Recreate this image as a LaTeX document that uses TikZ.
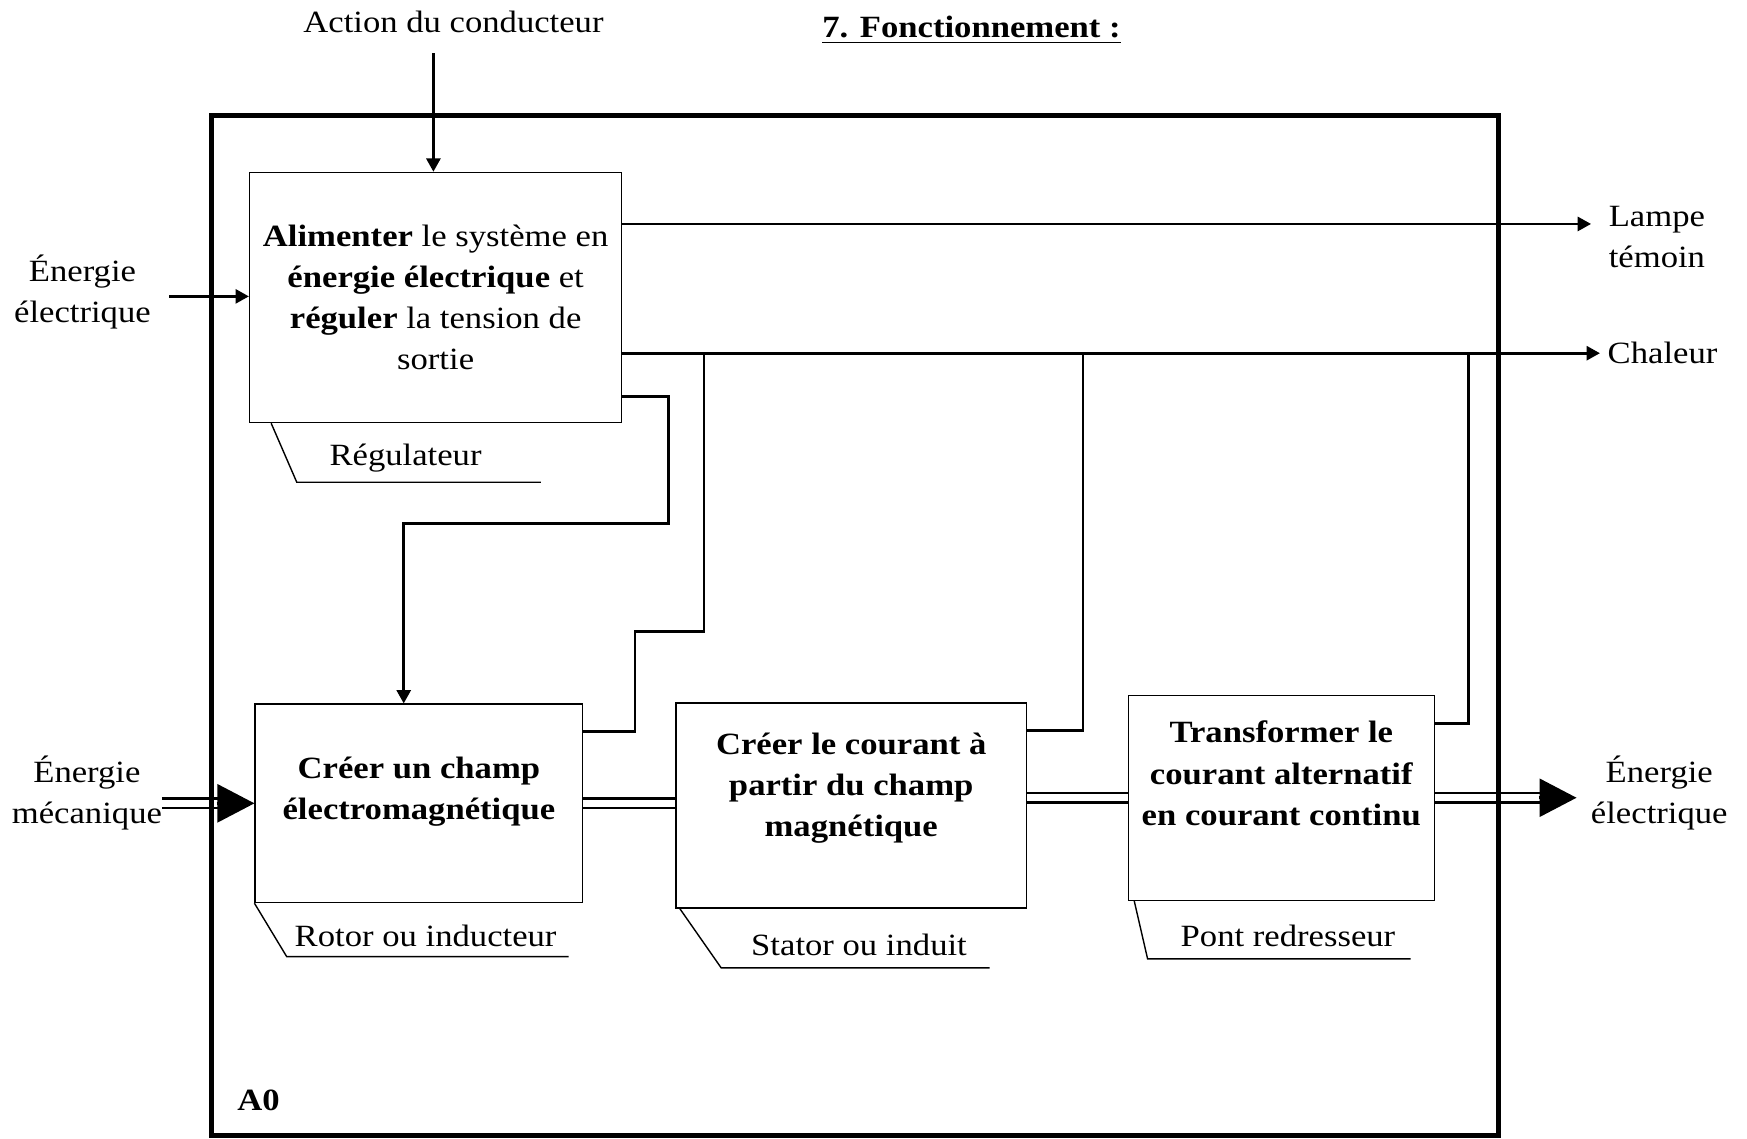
\documentclass[tikz,border=0pt]{standalone}
\usepackage{fontspec}
\setmainfont{Liberation Serif}[FakeStretch=1.12]
\usetikzlibrary{calc,arrows.meta}

\begin{document}
\begin{tikzpicture}[
  x=0.01114cm, y=-0.01114cm,
  font=\fontsize{8.8}{11.7}\selectfont,
  fbox/.style={draw, line width=0.4pt, align=center, inner sep=2pt},
  txt/.style={align=center, inner sep=2pt},
  flow/.style={line width=0.75pt},
  arr/.style={flow, -{Triangle[length=3.8pt,width=4pt]}},
  dbl/.style={line width=0.75pt, double, double distance=1.9pt},
  bigtip/.style={line width=0.75pt, -{Triangle[length=3.7mm,width=3.8mm]}},
  tab/.style={line width=0.4pt},
  frame/.style={line width=1.4pt}
]
  \useasboundingbox (0,0) rectangle (1568,1022);

  % Titles
  \node[txt] (title) at (872,27) {\textbf{\underline{7. Fonctionnement :}}};
  \node[txt] (action) at (407,20) {Action du conducteur};

  % Function boxes (struts lift the text towards the top)
  \node[fbox, minimum width=3.72cm, minimum height=2.50cm] (reg) at (391,267)
    {\textbf{Alimenter} le système en\\ \textbf{énergie électrique} et\\
     \textbf{réguler} la tension de\\ sortie};
  \node[fbox, font=\fontsize{8.8}{11.7}\selectfont\bfseries,
        minimum width=3.275cm, minimum height=1.983cm] (champ) at (376,721)
    {Créer un champ\\ électromagnétique\rule[-8.5pt]{0pt}{8.5pt}};
  \node[fbox, font=\fontsize{8.8}{11.7}\selectfont\bfseries,
        minimum width=3.50cm, minimum height=2.05cm] (courant) at (764,723)
    {Créer le courant à\\ partir du champ\\ magnétique\rule[-12pt]{0pt}{12pt}};
  \node[fbox, font=\fontsize{8.8}{11.7}\selectfont\bfseries,
        minimum width=3.06cm, minimum height=2.05cm] (redr) at (1150,716)
    {Transformer le\\ courant alternatif\\ en courant continu\rule[-14pt]{0pt}{14pt}};

  % Supports (mechanisms)
  \node[txt] (regm) at (364,411) {Régulateur};
  \draw[tab] ($(reg.south west)+(20,0)$) -- ++(23,53) -- ++(219,0);
  \node[txt] (champm) at (382,840) {Rotor ou inducteur};
  \draw[tab] (champ.south west) -- ++(29,48) -- ++(253,0);
  \node[txt] (courantm) at (771,848) {Stator ou induit};
  \draw[tab] ($(courant.south west)+(4,0)$) -- ++(37,53) -- ++(241,0);
  \node[txt] (redrm) at (1156,840) {Pont redresseur};
  \draw[tab] ($(redr.south west)+(6,0)$) -- ++(12,52) -- ++(236,0);

  % Inputs and outputs
  \node[txt] (elin) at (74,262) {Énergie\\électrique};
  \node[txt] (mec) at (78,712) {Énergie\\mécanique};
  \node[txt, anchor=west] (lampe) at (1437,213) {Lampe\\témoin};
  \node[txt, anchor=west] (chal) at (1436,317) {Chaleur};
  \node[txt, anchor=west] (elout) at (1421,712) {Énergie\\électrique};

  \coordinate (actin) at (389,48);
  \coordinate (elsrc) at (152,266);
  \coordinate (lampout) at (1428,201);
  \coordinate (mecin) at ($(champ.west)+(-83,0)$);
  \coordinate (elend) at ($(redr.east)+(127,0)$);

  \draw[arr] (actin) -- (actin |- reg.north);
  \draw[arr] (elsrc) -- (elsrc -| reg.west);
  \draw[arr] (reg.east |- lampout) -- (lampout);
  \draw[arr] (reg.east |- chal.west) -- (chal.west);

  % Regulator controls the rotor
  \draw[arr] ($(reg.south east)+(0,-24)$) -| (600,470)
    -| ($(champ.north west)+(134,0)$);

  % Heat losses
  \draw[flow] ($(champ.north east)+(0,25)$) -| (570,567) -| (632,0 |- chal.west);
  \draw[flow] ($(courant.north east)+(0,25)$) -| (972,0 |- chal.west);
  \draw[flow] ($(redr.north east)+(0,26)$) -| (1318,0 |- chal.west);

  % Energy flow
  \draw[dbl, shorten >=3.4mm] (mecin) -- (champ.west);
  \draw[bigtip] ($(champ.west)+(-34,0)$) -- (champ.west);
  \draw[dbl] (champ.east) -- (champ.east -| courant.west);
  \draw[dbl] (redr.west -| courant.east) -- (redr.west);
  \draw[dbl, shorten >=3.4mm] (redr.east) -- (elend);
  \draw[bigtip] ($(elend)+(-34,0)$) -- (elend);

  % Boundary of A0
  \draw[frame] (190,104) rectangle (1345,1019);
  \node[txt, font=\fontsize{8.8}{11.7}\selectfont\bfseries] (a0) at (232,988) {A0};
\end{tikzpicture}
\end{document}
